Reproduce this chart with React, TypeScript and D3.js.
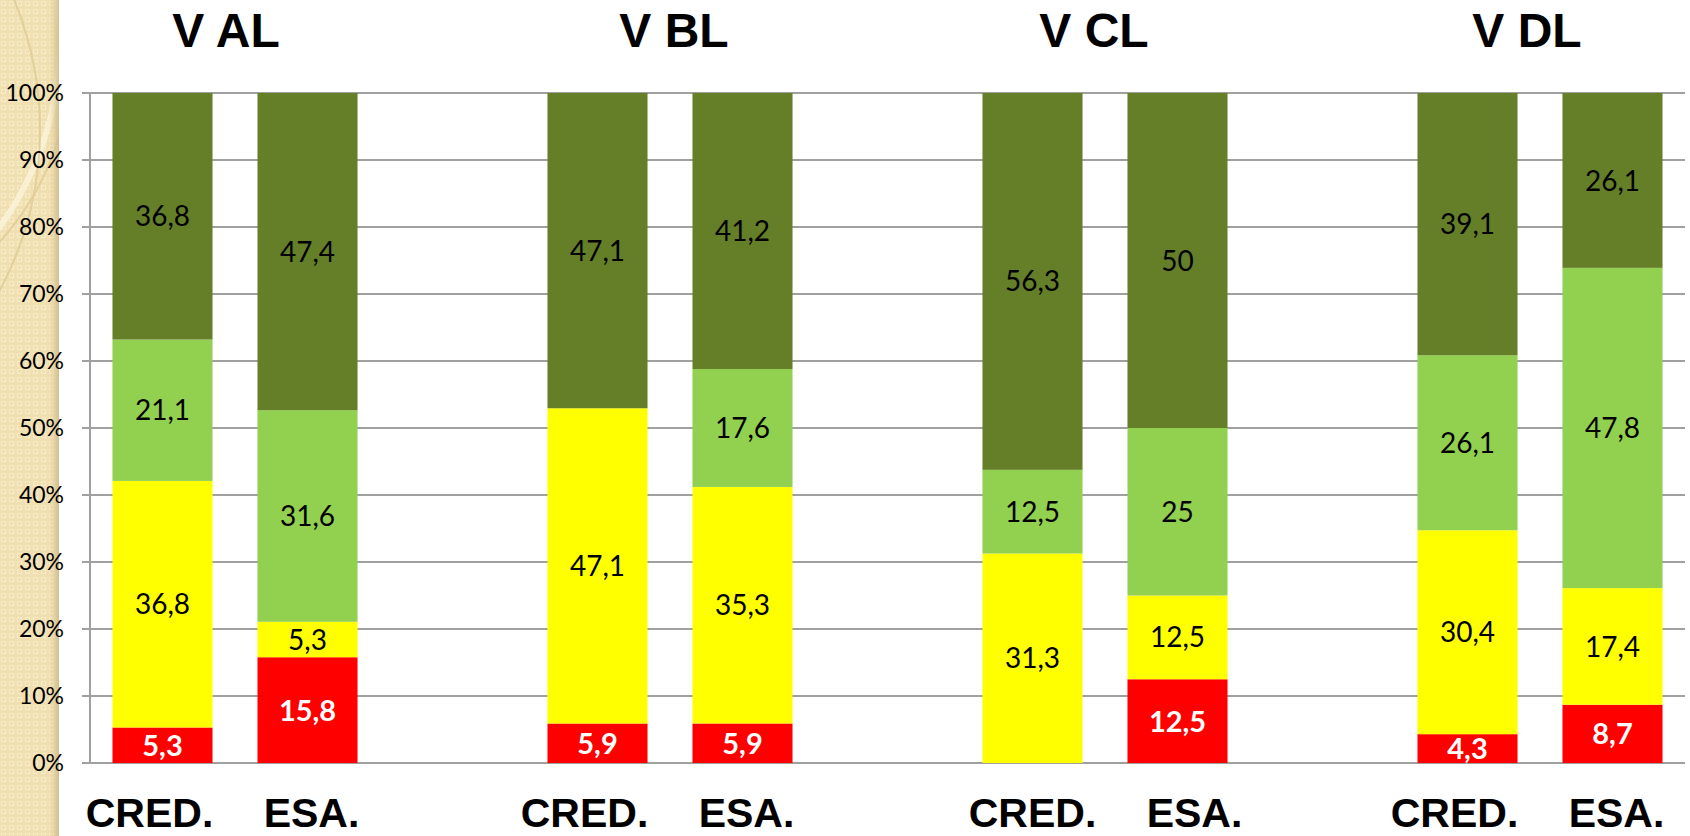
import * as d3 from 'd3';

const groups = ['V AL', 'V BL', 'V CL', 'V DL'];
const barNames = ['CRED.', 'ESA.'];
const seriesKeys = ['red', 'yellow', 'lightGreen', 'darkGreen'];

// bottom to top: red, yellow, light green, dark green (per group: CRED., ESA.)
const redValues = [5.3, 15.8, 5.9, 5.9, 0, 12.5, 4.3, 8.7];
const yellowValues = [36.8, 5.3, 47.1, 35.3, 31.3, 12.5, 30.4, 17.4];
const lightGreenValues = [21.1, 31.6, 0, 17.6, 12.5, 25, 26.1, 47.8];
const darkGreenValues = [36.8, 47.4, 47.1, 41.2, 56.3, 50, 39.1, 26.1];

const yTicks = [0, 0.1, 0.2, 0.3, 0.4, 0.5, 0.6, 0.7, 0.8, 0.9, 1];

const colors = {
  red: '#ff0000',
  yellow: '#ffff00',
  lightGreen: '#92d050',
  darkGreen: '#657f29',
};

const W = 1690;
const H = 836;
const margin = {top: 93, left: 90, right: 5, bottom: 73};

// text boxes in the original slide are not quite centred
const titleNudge = [-9, 4, -11, -13];
const labelNudge = [0, 0, 13, 0];

// one blank slot between groups
const slots: string[] = [];
groups.forEach((g, i) => {
  barNames.forEach(b => slots.push(`${g}|${b}`));
  if (i < groups.length - 1) slots.push(`gap${i}`);
});

const rows = slots
  .filter(s => !s.startsWith('gap'))
  .map((slot, i) => ({
    slot,
    gi: Math.floor(i / 2),
    group: slot.split('|')[0],
    bar: slot.split('|')[1],
    red: redValues[i],
    yellow: yellowValues[i],
    lightGreen: lightGreenValues[i],
    darkGreen: darkGreenValues[i],
  }));

const fmt = (v: number) => String(v).replace('.', ',');

export default function App() {
  const x = d3
    .scaleBand()
    .domain(slots)
    .range([margin.left, W - margin.right])
    .paddingInner(0.31)
    .paddingOuter(0.155);

  const y = d3
    .scaleLinear()
    .domain([0, 1])
    .range([H - margin.bottom, margin.top]);

  const stacked = d3
    .stack()
    .keys(seriesKeys)
    .offset(d3.stackOffsetExpand)(rows as any);

  const bw = x.bandwidth();
  const labelFont = 'Lato, "Open Sans", sans-serif';

  return (
    <svg
      width={W}
      height={H}
      style={{position: 'absolute', left: 0, top: 0, display: 'block', background: '#fff'}}
    >
      <defs>
        <pattern id="chk" width="8" height="8" patternUnits="userSpaceOnUse">
          <rect width="8" height="8" fill="#f0dfb0" />
          <rect x="1.5" y="1.5" width="4" height="4" fill="none" stroke="#f8ecc8" strokeWidth="1" />
        </pattern>
        <linearGradient id="edge" x1="0" x2="1">
          <stop offset="0" stopColor="#e6d3a0" stopOpacity="0" />
          <stop offset="1" stopColor="#cdb98a" stopOpacity="0.9" />
        </linearGradient>
        <clipPath id="strip">
          <rect x="0" y="0" width="59" height={H} />
        </clipPath>
      </defs>

      {/* decorative side strip */}
      <g clipPath="url(#strip)">
        <rect x="0" y="0" width="59" height={H} fill="url(#chk)" />
        <circle cx="-260" cy="40" r="320" fill="none" stroke="#fbf4dc" strokeWidth="6" opacity="0.8" />
        <circle cx="-200" cy="60" r="270" fill="none" stroke="#e3cf9a" strokeWidth="2" />
        <circle cx="-300" cy="130" r="340" fill="none" stroke="#e3cf9a" strokeWidth="2" />
        <rect x="48" y="0" width="11" height={H} fill="url(#edge)" />
      </g>

      {/* gridlines & ticks */}
      {yTicks.map(t => (
        <line
          key={t}
          x1={margin.left - 8}
          x2={W - margin.right}
          y1={y(t)}
          y2={y(t)}
          stroke="#a0a0a0"
          strokeWidth={2}
        />
      ))}
      <line
        x1={margin.left}
        x2={margin.left}
        y1={y(0)}
        y2={y(1)}
        stroke="#a0a0a0"
        strokeWidth={2}
      />
      {yTicks.map(t => (
        <text
          key={t}
          x={64}
          y={y(t)}
          dy="0.35em"
          textAnchor="end"
          fontFamily={labelFont}
          fontSize={23}
          fill="#000"
        >
          {d3.format('.0%')(t)}
        </text>
      ))}

      {/* bars */}
      {stacked.map(layer => (
        <g key={layer.key} fill={colors[layer.key]}>
          {layer.map((d: any) => (
            <rect
              key={d.data.slot}
              x={x(d.data.slot)}
              y={y(d[1])}
              width={bw}
              height={Math.max(0, y(d[0]) - y(d[1]))}
            />
          ))}
        </g>
      ))}

      {/* value labels */}
      {stacked.map(layer =>
        layer.map((d: any) => {
          const v = d.data[layer.key];
          if (!v) return null;
          const isRed = layer.key === 'red';
          return (
            <text
              key={`${layer.key}-${d.data.slot}`}
              x={x(d.data.slot) + bw / 2}
              y={(y(d[0]) + y(d[1])) / 2}
              dy="0.36em"
              textAnchor="middle"
              fontFamily={labelFont}
              fontWeight={isRed ? 700 : 400}
              fontSize={isRed ? 29 : 28}
              fill={isRed ? '#fff' : '#000'}
            >
              {fmt(v)}
            </text>
          );
        }),
      )}

      {/* bar names */}
      {rows.map(r => (
        <text
          key={`n-${r.slot}`}
          x={x(r.slot) + bw / 2 + (r.bar === 'CRED.' ? -13 : 4) + labelNudge[r.gi]}
          y={827}
          textAnchor="middle"
          fontFamily="'Liberation Sans', Arial, sans-serif"
          fontWeight={700}
          fontSize={41}
        >
          {r.bar}
        </text>
      ))}

      {/* group titles */}
      {groups.map((g, i) => {
        const a = x(`${g}|CRED.`);
        const b = x(`${g}|ESA.`) + bw;
        return (
          <text
            key={g}
            x={(a + b) / 2 + titleNudge[i]}
            y={47}
            textAnchor="middle"
            fontFamily="'Liberation Sans', Arial, sans-serif"
            fontWeight={700}
            fontSize={48}
          >
            {g}
          </text>
        );
      })}
    </svg>
  );
}
